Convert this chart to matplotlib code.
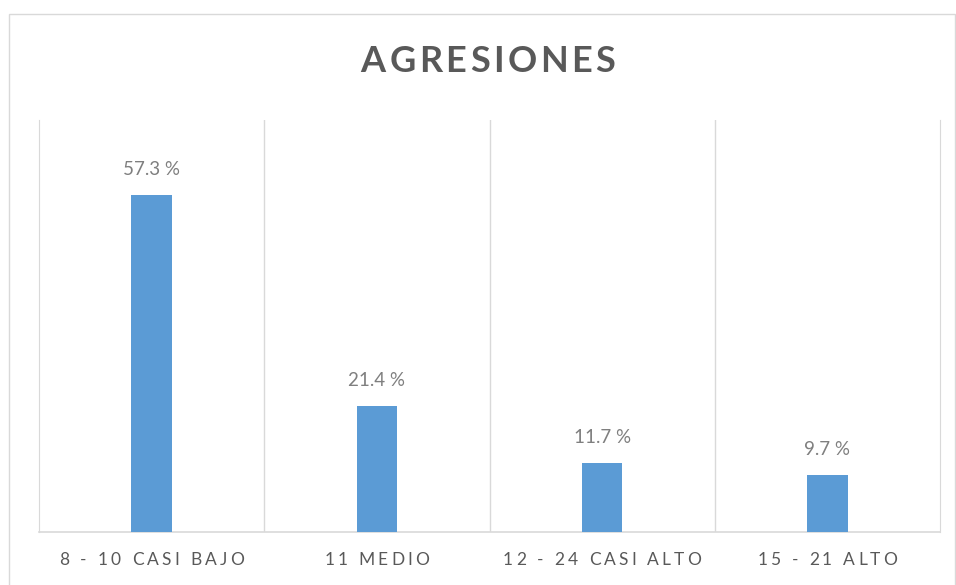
import matplotlib
matplotlib.use("Agg")
from matplotlib import pyplot as plt
from matplotlib.font_manager import FontProperties
from matplotlib.patches import Rectangle

categorias = ["8 - 10 CASI BAJO", "11 MEDIO", "12 - 24 CASI ALTO", "15 - 21 ALTO"]
porcentajes = [57.3, 21.4, 11.7, 9.7]
etiquetas = ["57.3 %", "21.4 %", "11.7 %", "9.7 %"]
titulo = "AGRESIONES"

azul = "#5B9BD5"
gris_linea = "#D9D9D9"

W, H = 956, 585
fig = plt.figure(figsize=(W / 100, H / 100), dpi=100)
ax = fig.add_axes([39 / W, 1 - 532 / H, (940 - 39) / W, (532 - 120) / H])

x = list(range(len(categorias)))
ax.bar(x, porcentajes, width=0.18, color=azul, zorder=3)

for xi, v, lab in zip(x, porcentajes, etiquetas):
    ax.annotate(lab, (xi, v), xytext=(0, 12), textcoords="offset points",
                ha="center", va="bottom", fontsize=13.5, color="#7F7F7F",
                family="Lato")

ax.set_xlim(-0.5, len(categorias) - 0.5)
ax.set_ylim(0, 70)
ax.set_yticks([])
ax.set_xticks([])
# lineas verticales entre categorias
for b in [i + 0.5 for i in range(len(categorias) - 1)]:
    ax.axvline(b, color=gris_linea, lw=1, zorder=1)
for s in ["left", "right"]:
    ax.spines[s].set_color(gris_linea)
ax.spines["top"].set_visible(False)
ax.spines["bottom"].set_color(gris_linea)
ax.spines["bottom"].set_linewidth(1.2)

# borde exterior del grafico
fig.patches.append(Rectangle((9 / W, -0.01), (955 - 9) / W, 1.01 - 14 / H,
                             transform=fig.transFigure, fill=False,
                             edgecolor=gris_linea, lw=1))

renderer = fig.canvas.get_renderer()


def texto_espaciado(xc, yc, s, espacio, size, color, weight="normal"):
    # dibuja letra por letra para imitar el espaciado de caracteres
    fp = FontProperties(family="Lato", size=size, weight=weight)
    anchos = []
    for ch in s:
        w, h, d = renderer.get_text_width_height_descent(ch if ch != " " else "a a", fp, ismath=False)
        if ch == " ":
            wa, _, _ = renderer.get_text_width_height_descent("aa", fp, ismath=False)
            w = w - wa
        anchos.append(w)
    total = sum(anchos) + espacio * (len(s) - 1)
    px = xc - total / 2
    for ch, w in zip(s, anchos):
        fig.text(px / W, yc / H, ch, fontproperties=fp, color=color,
                 ha="left", va="center")
        px += w + espacio


texto_espaciado(488, H - 62, titulo, 3.5, 26, "#595959", weight="bold")

for xi, cat in zip(x, categorias):
    xc = ax.transData.transform((xi, 0))[0]
    texto_espaciado(xc, H - 560, cat, 3.2, 12.5, "#595959")

fig.savefig("out.png", dpi=100)
